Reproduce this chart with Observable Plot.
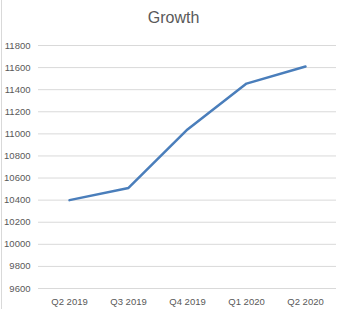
<!DOCTYPE html>
<html>
<head>
<meta charset="utf-8">
<script src="https://cdn.jsdelivr.net/npm/d3@7"></script>
<script src="https://cdn.jsdelivr.net/npm/@observablehq/plot@0.6"></script>
<style>
  html, body { margin: 0; padding: 0; background: #fff; }
  #wrap { position: relative; width: 343px; height: 309px; overflow: hidden; }
  #edge { position: absolute; left: 1px; top: 0; width: 1px; height: 309px; background: #d9d9d9; }
  #title { height: 24px; padding-top: 8px; width: 347px; text-align: center;
           font-family: "Liberation Sans Narrow", "Liberation Sans", sans-serif;
           font-size: 16px; line-height: 20px; color: #595959; }
  svg { display: block; }
</style>
</head>
<body>
<div id="wrap">
  <div id="edge"></div>
  <div id="title">Growth</div>
  <div id="chart"></div>
</div>
<script>
const categories = ["Q2 2019", "Q3 2019", "Q4 2019", "Q1 2020", "Q2 2020"];
const values = [10400, 10510, 11040, 11455, 11610];
const yTicks = [9600, 9800, 10000, 10200, 10400, 10600, 10800, 11000, 11200, 11400, 11600, 11800];

const data = categories.map((c, i) => ({ quarter: c, value: values[i] }));

const chart = Plot.plot({
  width: 343,
  height: 277,
  marginTop: 13,
  marginBottom: 21,
  marginLeft: 38,
  marginRight: 7,
  style: { fontFamily: "'Liberation Sans Narrow', 'Liberation Sans', sans-serif", fontSize: "9.5px", color: "#595959", background: "#fff" },
  x: { type: "point", domain: categories, padding: 0.5, label: null },
  y: { domain: [9600, 11800], label: null },
  marks: [
    Plot.gridY(yTicks, { stroke: "#d9d9d9", strokeOpacity: 1, strokeWidth: 1 }),
    Plot.axisY(yTicks, { tickSize: 0, tickPadding: 8, label: null, tickFormat: d => String(d), fill: "#595959" }),
    Plot.axisX({ tickSize: 0, tickPadding: 10, label: null, fill: "#595959" }),
    Plot.line(data, { x: "quarter", y: "value", stroke: "#4a7ebb", strokeWidth: 2.5, strokeLinejoin: "round", strokeLinecap: "round" })
  ]
});
document.getElementById("chart").appendChild(chart);
</script>
</body>
</html>
